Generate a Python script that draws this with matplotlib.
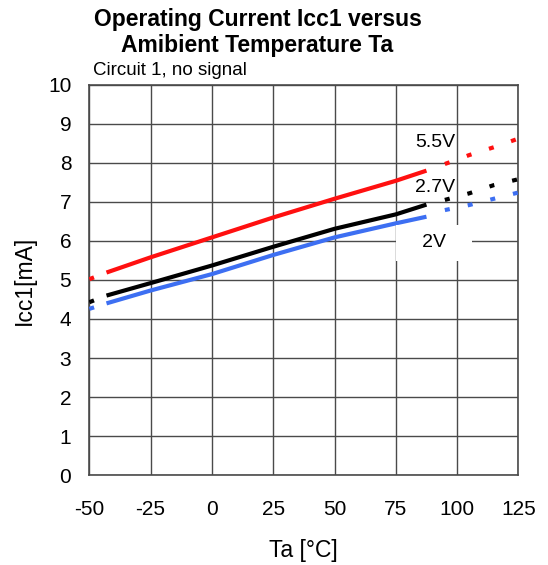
import matplotlib
matplotlib.use("Agg")
import matplotlib.pyplot as plt

plt.rcParams['font.family'] = ['Liberation Sans', 'DejaVu Sans']
plt.rcParams['axes.unicode_minus'] = False

# solid parts of the curves
ta = [-43, -25, 0, 25, 50, 75, 87.5]
icc_55 = [5.19, 5.58, 6.09, 6.60, 7.08, 7.54, 7.80]
icc_27 = [4.60, 4.92, 5.37, 5.85, 6.31, 6.68, 6.93]
icc_20 = [4.40, 4.73, 5.15, 5.64, 6.09, 6.45, 6.62]

# dotted parts (extrapolated ends)
ta_lo = [-50, -43]
lo_55 = [5.02, 5.19]
lo_27 = [4.43, 4.60]
lo_20 = [4.26, 4.40]

ta_hi = [95, 105, 115, 125]
hi_55 = [7.97, 8.20, 8.40, 8.62]
hi_27 = [7.05, 7.22, 7.43, 7.58]
hi_20 = [6.79, 6.92, 7.08, 7.24]

xticks = [-50, -25, 0, 25, 50, 75, 100, 125]
yticks = list(range(0, 11))

fig = plt.figure(figsize=(5.48, 5.65), dpi=100)
ax = fig.add_axes([0.163, 0.159, 0.783, 0.691])

red = '#ff1010'
blk = '#000000'
blu = '#3d6ff2'
dots = (0, (1.2, 4.4))

for y, lo, hi, c in [(icc_20, lo_20, hi_20, blu), (icc_27, lo_27, hi_27, blk), (icc_55, lo_55, hi_55, red)]:
    ax.plot(ta, y, color=c, lw=3, solid_capstyle='butt', zorder=3)
    ax.plot(ta_lo, lo, color=c, lw=3, linestyle=dots, dash_capstyle='butt', zorder=3)
    ax.plot(ta_hi, hi, color=c, lw=3, linestyle=dots, dash_capstyle='butt', zorder=3)

ax.set_xlim(-50, 125)
ax.set_ylim(0, 10)
ax.set_xticks(xticks)
ax.set_yticks(yticks)
ax.grid(True, color='#4a4a4a', lw=1)
ax.tick_params(length=0, labelsize=15, pad=13)
ax.tick_params(axis='x', pad=18)
for s in ax.spines.values():
    s.set_color('#4a4a4a')
    s.set_linewidth(1.2)

ax.text(91, 8.51, '5.5V', fontsize=14, ha='center', va='center', zorder=4)
ax.text(91, 7.36, '2.7V', fontsize=14, ha='center', va='center', zorder=4)
ax.text(90.5, 5.95, '   2V   ', fontsize=14, ha='center', va='center', zorder=4,
        bbox=dict(facecolor='white', edgecolor='none', pad=7))

ax.set_xlabel('Ta [°C]', fontsize=16.5, labelpad=14)
ax.set_ylabel('Icc1[mA]', fontsize=16.5, labelpad=9)

fig.text(0.47, 0.966, 'Operating Current Icc1 versus', fontsize=16.5, fontweight='bold', ha='center', va='center')
fig.text(0.47, 0.919, 'Amibient Temperature Ta', fontsize=16.5, fontweight='bold', ha='center', va='center')
fig.text(0.17, 0.876, 'Circuit 1, no signal', fontsize=13.5, ha='left', va='center')

fig.savefig('out.png', dpi=100)
